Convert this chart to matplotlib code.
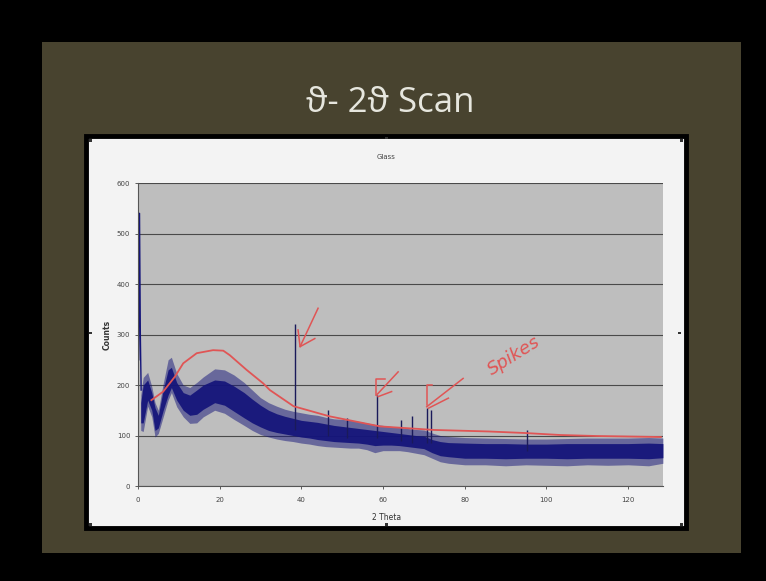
"""Recreate the photographed 'theta - 2theta scan' slide (Glass XRD pattern)."""

import matplotlib
matplotlib.use("Agg")
import matplotlib.pyplot as plt
from matplotlib.patches import Rectangle

# ---- data ----------------------------------------------------------------
# sharp drop at the very start of the scan
start_theta = [0.2, 0.4, 0.6, 0.8]
start_counts = [250, 540, 300, 190]

# noisy band: outer envelope and dense core
band_theta = [0.7, 1.3, 2.4, 3.4, 4.2, 5.0, 6.2, 7.4, 8.2, 9.5,
              11.1, 12.7, 14.4, 16, 18.8, 21.2, 23.5, 26, 28, 30,
              32, 34, 36, 38, 40, 42, 44, 46, 48, 50,
              52, 54, 56, 58, 60, 62, 64, 66, 68, 70,
              72, 74, 76, 80, 85, 90, 95, 100, 105, 110,
              115, 120, 125, 128.5]
band_upper = [180, 215, 225, 197, 165, 150, 203, 250, 255, 223,
              200, 195, 205, 216, 232, 230, 220, 205, 190, 175,
              165, 158, 152, 148, 145, 142, 140, 136, 133, 132,
              130, 128, 125, 122, 120, 118, 116, 114, 112, 111,
              105, 100, 98, 96, 95, 94, 93, 93, 94, 95,
              95, 95, 96, 95]
band_lower = [110, 108, 158, 137, 97, 104, 137, 170, 185, 157,
              137, 124, 125, 137, 150, 144, 132, 120, 110, 102,
              97, 93, 90, 88, 85, 83, 80, 78, 77, 76,
              75, 75, 72, 66, 70, 70, 70, 68, 65, 62,
              55, 48, 45, 42, 42, 40, 42, 41, 40, 42,
              41, 42, 40, 45]
core_upper = [165, 200, 210, 185, 155, 140, 190, 230, 235, 205,
              185, 180, 190, 200, 210, 208, 198, 185, 172, 160,
              150, 143, 138, 134, 130, 128, 126, 123, 120, 118,
              116, 114, 112, 110, 108, 106, 104, 102, 100, 99,
              92, 88, 86, 85, 84, 84, 83, 83, 84, 84,
              84, 84, 85, 84]
core_lower = [125, 125, 170, 150, 110, 115, 150, 180, 195, 170,
              150, 140, 142, 152, 165, 160, 148, 135, 125, 117,
              110, 106, 103, 100, 97, 95, 92, 90, 88, 87,
              86, 85, 83, 80, 81, 81, 80, 78, 76, 74,
              66, 60, 58, 55, 55, 54, 55, 55, 54, 55,
              55, 55, 54, 56]

# sharp spikes
spike_theta = [38.4, 58.6, 70.7, 71.8, 46.5, 51.3, 64.5, 67.0, 95.3]
spike_top = [320, 180, 155, 150, 150, 135, 130, 138, 110]
spike_base = [110, 95, 85, 85, 100, 95, 90, 85, 70]

# hand-drawn red background curve
red_theta = [3.3, 6.2, 9.1, 11.1, 14.4, 18.4, 20.9, 22.5, 26.6, 30.7,
             32.3, 38.1, 46.9, 59.3, 72.5, 85.8, 94.6, 103.4, 112.2, 128]
red_counts = [170, 187, 217, 243, 263, 269, 268, 259, 230, 203,
              190, 158, 138, 118, 111, 108, 105, 101, 99, 97]

x_ticks = [0, 20, 40, 60, 80, 100, 120]
y_ticks = [0, 100, 200, 300, 400, 500, 600]

NAVY = "#14147a"
RED = "#e05555"

fig = plt.figure(figsize=(7.66, 5.81), dpi=100)
fig.patch.set_facecolor("black")

# slide background and chart box
fig.add_artist(Rectangle((0.055, 0.048), 0.913, 0.88, transform=fig.transFigure,
                         facecolor="#48432f", edgecolor="none", zorder=0))
fig.add_artist(Rectangle((0.1123, 0.0912), 0.7833, 0.6748, transform=fig.transFigure,
                         facecolor="#f3f3f3", edgecolor="black", lw=3.5, zorder=1))
for hx, hy in [(0.118, 0.758), (0.504, 0.762), (0.890, 0.758), (0.118, 0.427),
               (0.887, 0.427), (0.118, 0.097), (0.504, 0.097), (0.890, 0.097)]:
    fig.add_artist(Rectangle((hx - 0.002, hy - 0.002), 0.004, 0.004, transform=fig.transFigure,
                             facecolor="#333333", edgecolor="none", zorder=2))

fig.text(0.509, 0.823, "ϑ- 2ϑ Scan", ha="center", va="center", fontsize=25,
         color="#e6e6de", family=["Open Sans", "DejaVu Sans"])

ax = fig.add_axes([0.180, 0.1635, 0.6854, 0.5215])
ax.set_zorder(3)
ax.set_facecolor("#bebebe")

ax.fill_between(band_theta, band_lower, band_upper, color=NAVY, alpha=0.5, lw=0)
ax.fill_between(band_theta, core_lower, core_upper, color=NAVY, alpha=0.92, lw=0)
ax.plot(start_theta, start_counts, color=NAVY, lw=1.0)
ax.vlines(spike_theta, spike_base, spike_top, color="#1a1a5a", lw=1.0)
ax.plot(red_theta, red_counts, color=RED, lw=1.3, zorder=4)

# red hand annotations
arrows = [
    ([44.1, 39.7], [352, 276]), ([39.2, 39.7, 43.3], [309, 276, 292]),
    ([63.7, 58.4], [226, 180]), ([58.4, 58.4, 60.5], [180, 212, 212]), ([58.8, 62.1], [177, 187]),
    ([79.6, 70.7], [213, 157]), ([70.7, 70.7, 71.9], [160, 200, 200]), ([71.1, 76.0], [154, 174]),
]
for xs, ys in arrows:
    ax.plot(xs, ys, color=RED, lw=1.1, zorder=4)
ax.text(92, 257, "Spikes", rotation=32, color=RED, fontsize=13, style="italic",
        ha="center", va="center", zorder=4)

ax.set_xlim(0, 128.5)
ax.set_ylim(0, 600)
ax.set_xticks(x_ticks)
ax.set_yticks(y_ticks)
ax.tick_params(labelsize=5, colors="#444444", length=2, width=0.6)
ax.tick_params(axis="x", pad=6)
ax.yaxis.grid(True, color="#4a4a4a", lw=0.8)
ax.set_axisbelow(True)
for side in ["top", "right"]:
    ax.spines[side].set_visible(False)
for side in ["left", "bottom"]:
    ax.spines[side].set_color("#555555")
    ax.spines[side].set_linewidth(0.8)

fig.text(0.504, 0.730, "Glass", ha="center", va="center", fontsize=5, color="#444444")
fig.text(0.504, 0.110, "2 Theta", ha="center", va="center", fontsize=5.5, color="#333333")
fig.text(0.140, 0.424, "Counts", ha="center", va="center", fontsize=5.5, color="#333333",
         rotation=90, weight="bold")

fig.savefig("out.png", dpi=100, facecolor=fig.get_facecolor())
